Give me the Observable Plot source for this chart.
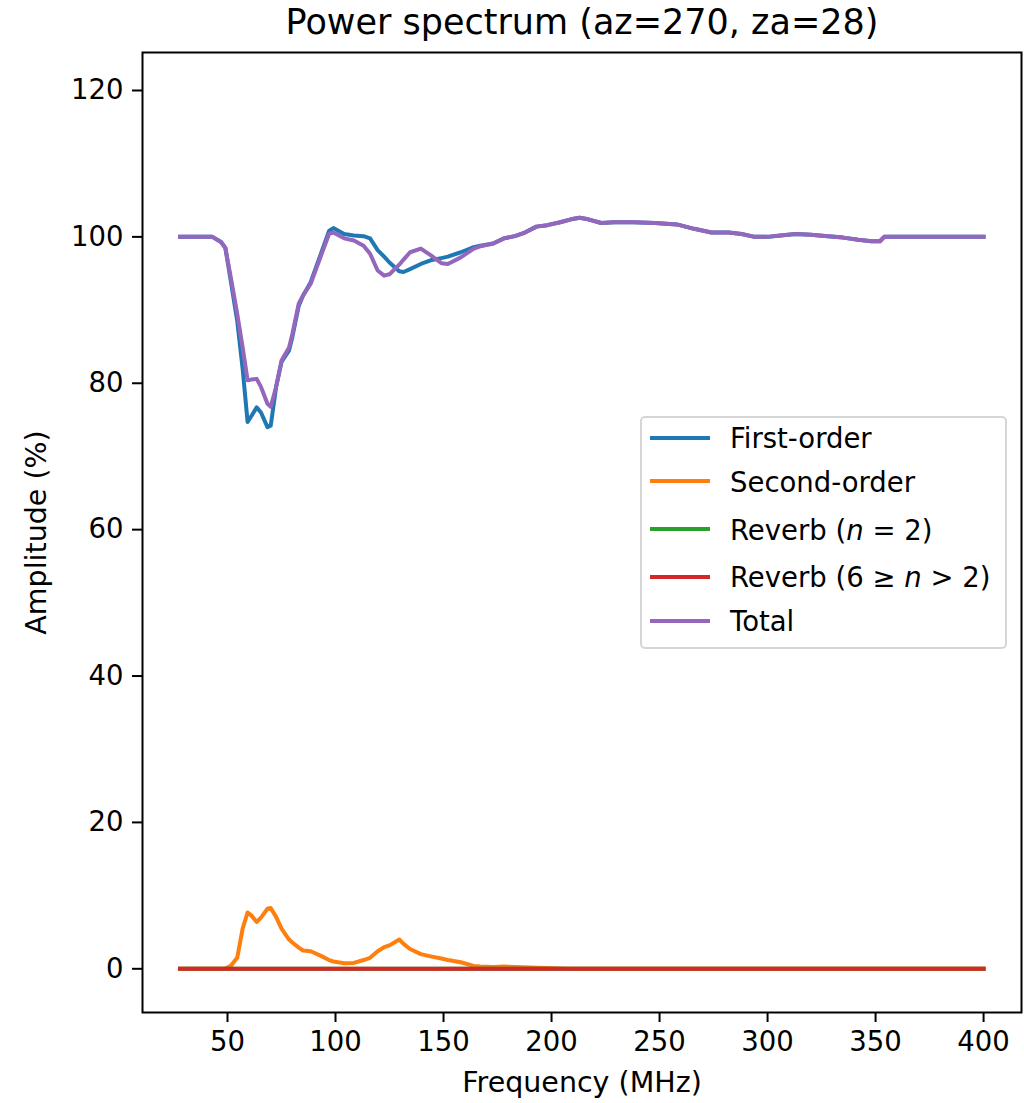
<!DOCTYPE html>
<html>
<head>
<meta charset="utf-8">
<script src="https://cdn.jsdelivr.net/npm/d3@7"></script>
<script src="https://cdn.jsdelivr.net/npm/@observablehq/plot@0.6"></script>
<style>
  html, body { margin: 0; padding: 0; background: white; }
  #wrap { position: relative; width: 1024px; height: 1103px; font-family: "DejaVu Sans", sans-serif; }
  #legend { position: absolute; left: 640px; top: 416px; width: 367px; height: 233px; box-sizing: border-box;
            border: 2px solid #d6d6d6; border-radius: 5px; background: rgba(255,255,255,0.8);
            font-family: "DejaVu Sans", sans-serif; font-size: 27.5px; color: black; }
  .lg-line { position: absolute; left: 8px; width: 60px; height: 4px; }
  .lg-text { position: absolute; left: 88px; line-height: 32px; height: 32px; white-space: nowrap; }
</style>
</head>
<body>
<div id="wrap"></div>
<script>
// ---- data ----
const title = "Power spectrum (az=270, za=28)";
const xLabel = "Frequency (MHz)";
const yLabel = "Amplitude (%)";
const xTicks = [50, 100, 150, 200, 250, 300, 350, 400];
const yTicks = [0, 20, 40, 60, 80, 100, 120];

const freq = [28, 35, 43, 47, 49, 51.5, 54.5, 57, 59.3, 61, 63.5, 65.5, 68.5, 70, 72.5,
  75, 78.5, 80, 83, 85, 88.5, 93, 97, 99, 104, 108.5, 113, 116, 119.5, 122.5,
  125, 129.5, 131.5, 134.5, 139.5, 144, 149, 152, 158, 164, 167, 173, 178, 183, 187,
  193, 198, 204, 209, 213, 217, 223, 229, 238, 248, 258, 266, 274, 282, 288,
  294, 300, 306, 313, 320, 328, 335, 342, 348, 352, 354, 360, 380, 400];

const firstOrder = [100.0, 100.0, 100.0, 99.3, 98.5, 94.0, 88.5, 82.0, 74.7, 75.5, 76.7, 76.0, 74.0, 74.2, 79.5,
  82.9, 84.5, 86.3, 90.6, 92.0, 93.8, 97.5, 100.8, 101.2, 100.4, 100.2, 100.1, 99.8, 98.2, 97.3,
  96.5, 95.3, 95.2, 95.6, 96.3, 96.8, 97.1, 97.3, 97.9, 98.6, 98.8, 99.1, 99.8, 100.1, 100.5,
  101.4, 101.6, 102.0, 102.4, 102.6, 102.4, 101.9, 102.0, 102.0, 101.9, 101.7, 101.1, 100.6, 100.6, 100.4,
  100.0, 100.0, 100.2, 100.4, 100.3, 100.1, 99.9, 99.6, 99.4, 99.4, 100.0, 100.0, 100.0, 100.0];

const secondOrder = [0, 0, 0, 0, 0.05, 0.4, 1.5, 5.5, 7.7, 7.3, 6.4, 7.0, 8.2, 8.3, 7.1,
  5.5, 4.0, 3.6, 2.9, 2.5, 2.4, 1.8, 1.2, 1.0, 0.75, 0.8, 1.2, 1.5, 2.4, 2.95,
  3.2, 4.0, 3.4, 2.7, 2.0, 1.7, 1.4, 1.2, 0.9, 0.4, 0.3, 0.25, 0.3, 0.25, 0.2,
  0.15, 0.1, 0.05, 0, 0, 0, 0, 0, 0, 0, 0, 0, 0, 0, 0,
  0, 0, 0, 0, 0, 0, 0, 0, 0, 0, 0, 0, 0, 0];

const reverbN2 = [0, 0, 0, 0, 0, 0, 0, 0, 0, 0, 0, 0, 0, 0, 0,
  0, 0, 0, 0, 0, 0, 0, 0, 0, 0, 0, 0, 0, 0, 0,
  0, 0, 0, 0, 0, 0, 0, 0, 0, 0, 0, 0, 0, 0, 0,
  0, 0, 0, 0, 0, 0, 0, 0, 0, 0, 0, 0, 0, 0, 0,
  0, 0, 0, 0, 0, 0, 0, 0, 0, 0, 0, 0, 0, 0];

const reverbN6 = [0, 0, 0, 0, 0, 0, 0, 0, 0, 0, 0, 0, 0, 0, 0,
  0, 0, 0, 0, 0, 0, 0, 0, 0, 0, 0, 0, 0, 0, 0,
  0, 0, 0, 0, 0, 0, 0, 0, 0, 0, 0, 0, 0, 0, 0,
  0, 0, 0, 0, 0, 0, 0, 0, 0, 0, 0, 0, 0, 0, 0,
  0, 0, 0, 0, 0, 0, 0, 0, 0, 0, 0, 0, 0, 0];

const total = [100.0, 100.0, 100.0, 99.3, 98.5, 94.5, 89.5, 84.9, 80.4, 80.5, 80.6, 79.5, 77.2, 76.8, 79.5,
  83.1, 84.9, 86.7, 90.9, 92.0, 93.6, 97.2, 100.4, 100.6, 99.8, 99.5, 98.8, 97.7, 95.4, 94.7,
  94.9, 96.2, 96.9, 97.9, 98.4, 97.5, 96.4, 96.3, 97.2, 98.4, 98.7, 99.1, 99.8, 100.1, 100.5,
  101.4, 101.6, 102.0, 102.4, 102.6, 102.4, 101.9, 102.0, 102.0, 101.9, 101.7, 101.1, 100.6, 100.6, 100.4,
  100.0, 100.0, 100.2, 100.4, 100.3, 100.1, 99.9, 99.6, 99.4, 99.4, 100.0, 100.0, 100.0, 100.0];

const seriesNames = ["First-order", "Second-order", "Reverb (<i>n</i> = 2)", "Reverb (6 ≥ <i>n</i> &gt; 2)", "Total"];
const seriesColors = ["#1f77b4", "#ff7f0e", "#2ca02c", "#d62728", "#9467bd"];
const seriesValues = [firstOrder, secondOrder, reverbN2, reverbN6, total];

// ---- chart ----
const lineStyle = {strokeWidth: 4, strokeLinejoin: "round", strokeLinecap: "square"};

const chart = Plot.plot({
  width: 1024,
  height: 1103,
  marginTop: 52,
  marginBottom: 91,
  marginLeft: 142,
  marginRight: 3,
  style: {fontFamily: "DejaVu Sans", fontSize: "27.5px", background: "white", color: "black", overflow: "visible"},
  x: {domain: [10.65, 417.55]},
  y: {domain: [-5.97, 125.19]},
  marks: [
    ...seriesValues.map((vals, i) => Plot.lineY(vals, {x: freq, stroke: seriesColors[i], ...lineStyle})),
    Plot.frame({stroke: "black", strokeWidth: 2}),
    Plot.axisX({ticks: xTicks, tickSize: 10, tickPadding: 9, strokeWidth: 2, label: null}),
    Plot.axisY({ticks: yTicks, tickSize: 10, tickPadding: 9, strokeWidth: 2, label: null}),
    Plot.text([title], {text: d => d, frameAnchor: "top", lineAnchor: "middle", textAnchor: "middle",
      dy: -30, fontSize: 35, fill: "black"}),
    Plot.text([xLabel], {text: d => d, frameAnchor: "bottom", lineAnchor: "middle", textAnchor: "middle",
      dy: 70, fontSize: 28.5, fill: "black"}),
    Plot.text([yLabel], {text: d => d, frameAnchor: "left", lineAnchor: "middle", textAnchor: "middle",
      dx: -106, rotate: -90, fontSize: 28.5, fill: "black"})
  ]
});

const wrap = document.getElementById("wrap");
wrap.appendChild(chart);

// ---- legend (inside the axes) ----
const rowCenters = [19.7, 63, 111, 158.7, 202.7];
const legend = document.createElement("div");
legend.id = "legend";
seriesNames.forEach((name, i) => {
  const ln = document.createElement("div");
  ln.className = "lg-line";
  ln.style.top = (rowCenters[i] - 2) + "px";
  ln.style.background = seriesColors[i];
  legend.appendChild(ln);
  const tx = document.createElement("div");
  tx.className = "lg-text";
  tx.style.top = (rowCenters[i] - 15.5) + "px";
  tx.innerHTML = name;
  legend.appendChild(tx);
});
wrap.appendChild(legend);
</script>
</body>
</html>
